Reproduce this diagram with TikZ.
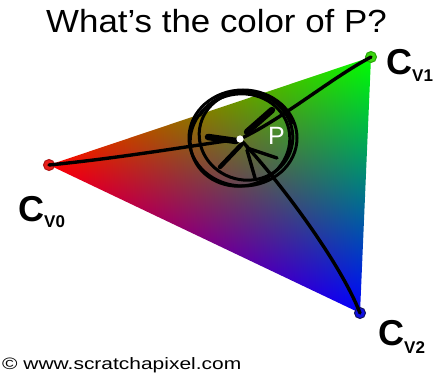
\documentclass[tikz,border=0pt]{standalone}
\usepackage{fontspec}
\setmainfont{Liberation Sans}
\usepackage{graphicx}

% barycentric RGB interpolation over the triangle V0 (red), V1 (green), V2 (blue)
\pgfdeclarefunctionalshading{rgbtri}{\pgfpoint{-50bp}{-50bp}}{\pgfpoint{50bp}{50bp}}{}{
 2 copy 0.0010073 mul exch -0.027603 mul add 0.46149 add 3 1 roll
 2 copy 0.028480 mul exch 0.015958 mul add 0.22930 add 3 1 roll
 -0.029487 mul exch 0.011645 mul add 0.30922 add
}

\definecolor{dotred}{RGB}{232,30,25}
\definecolor{rimred}{RGB}{175,20,20}
\definecolor{dotgreen}{RGB}{60,215,15}
\definecolor{rimgreen}{RGB}{40,165,10}
\definecolor{dotblue}{RGB}{15,15,225}
\definecolor{rimblue}{RGB}{20,20,90}

\begin{document}
\begin{tikzpicture}[x=1pt,y=1pt,
  pen/.style={line width=3.4pt, line cap=round, line join=round, black},
  heavypen/.style={line width=6.5pt, line cap=round, black},
  loop/.style={line width=3pt, line cap=round, black},
  vdot/.style={circle, inner sep=0pt, minimum size=11pt, line width=1pt},
  clabel/.style={anchor=base west, inner sep=0pt, font=\bfseries\fontsize{36}{40}\selectfont}]
\useasboundingbox (0,0) rectangle (438,372);
\fill[white] (0,0) rectangle (438,372);

% gradient triangle
\begin{scope}
  \clip (49,207) -- (371,315) -- (360,59) -- cycle;
  \shade[shading=rgbtri] (0,0) rectangle (438,372);
\end{scope}

% vertex dots
\node[vdot, fill=dotred, draw=rimred] (v0) at (49,207) {};
\node[vdot, fill=dotgreen, draw=rimgreen] (v1) at (371,315) {};
\node[vdot, fill=dotblue, draw=rimblue] (v2) at (360,59) {};

% white label P
\node[anchor=base west, inner sep=0pt, text=white, font=\fontsize{25}{30}\selectfont] (plabel) at (268,227) {P};

% point P
\node[circle, inner sep=0pt, minimum size=7pt] (p) at (240,233) {};

% hand-drawn circles around P
\draw[loop] (243,234) ellipse [x radius=54, y radius=48];
\draw[loop, rotate around={12:(240,232)}] (240,232) ellipse [x radius=50, y radius=46];
\draw[loop, rotate around={-15:(246,236)}] (246,236) ellipse [x radius=47, y radius=44];
\draw[loop] (244,233) ++(150:51 and 47) arc[start angle=150, end angle=20, x radius=51, y radius=47];

% connectors from the vertices to P
\draw[pen] (v0.center) .. controls (120,214) and (190,226) .. (p);
\draw[pen] (v1.center) .. controls (330,293) and (285,255) .. (p);
\draw[pen] (v2.center) .. controls (340,110) and (280,190) .. (p);

% arrow strokes and spokes around P
\draw[heavypen] (208,235) -- (236,231);
\draw[heavypen] (272,262) -- (247,240);
\draw[pen, line width=4.5pt] (220,205) -- (241,227);
\draw[pen] (247,224) -- (277,214);
\draw[pen] (247,222) -- (255,194);

% white dot on P
\fill[white] (p.center) circle (3.6pt);

% vertex labels
\node[clabel] (c0) at (18,150) {C\raisebox{-6pt}{\fontsize{17}{20}\selectfont V0}};
\node[clabel] (c1) at (386,297) {C\raisebox{-7pt}{\fontsize{17}{20}\selectfont V1}};
\node[clabel] (c2) at (378,27) {C\raisebox{-8pt}{\fontsize{17}{20}\selectfont V2}};

% title
\node[anchor=base, inner sep=0pt, font=\fontsize{32}{38}\selectfont] (title) at (216.5,339) {\scalebox{1.09}[1]{What’s the color of P?}};

% copyright
\node[anchor=base west, inner sep=0pt, font=\fontsize{16.5}{20}\selectfont] (copy) at (2,3) {\scalebox{1.27}[1]{© www.scratchapixel.com}};
\end{tikzpicture}
\end{document}
